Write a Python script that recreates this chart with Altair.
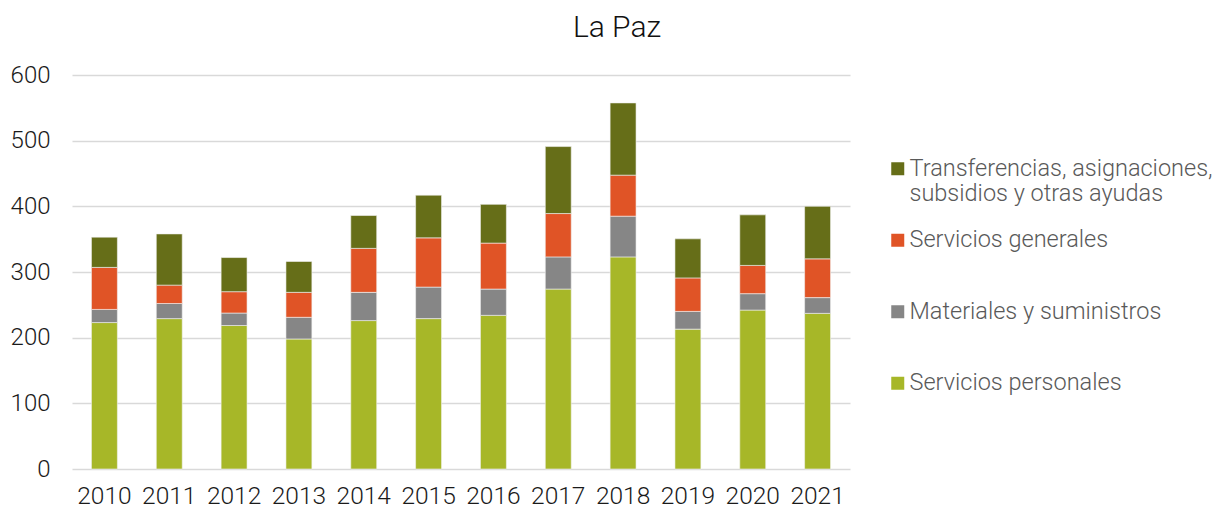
import altair as alt
import pandas as pd

years = [str(y) for y in range(2010, 2022)]
servicios_personales = [223, 229, 218.5, 198, 226, 229, 234, 274, 323, 213, 242, 237]
materiales_suministros = [20, 23, 19, 33, 43, 48, 40, 49, 62, 27, 25, 24]
servicios_generales = [64, 28, 32.5, 38, 67, 75, 70, 66, 62.5, 51, 43, 59]
transferencias = [46, 78, 52, 47, 50, 65, 59, 102, 110, 59.5, 77, 80]

series_names = [
    "Servicios personales",
    "Materiales y suministros",
    "Servicios generales",
    "Transferencias, asignaciones, subsidios y otras ayudas",
]
series_values = [servicios_personales, materiales_suministros, servicios_generales, transferencias]
series_colors = ["#a7b728", "#868686", "#e05426", "#666e18"]

rows = []
for k, (name, vals) in enumerate(zip(series_names, series_values)):
    for y, v in zip(years, vals):
        rows.append({"year": y, "serie": name, "valor": v, "orden": k})
df = pd.DataFrame(rows)

legend_order = series_names[::-1]
legend_colors = series_colors[::-1]

FONT = "Roboto"

chart = alt.Chart(df).mark_bar(stroke="#f2f2f2", strokeWidth=0.6).encode(
    x=alt.X("year:O", title=None, sort=years,
            scale=alt.Scale(paddingInner=0.6, paddingOuter=0.3),
            axis=alt.Axis(labelAngle=0, ticks=False, domain=False, labelPadding=15,
                          labelFontSize=24.5, labelColor="#1a1a1a", labelFont=FONT,
                          labelFontWeight=300)),
    y=alt.Y("valor:Q", title=None, stack="zero",
            scale=alt.Scale(domain=[0, 600], nice=False),
            axis=alt.Axis(values=[0, 100, 200, 300, 400, 500, 600], ticks=False, domain=False,
                          labelPadding=22, labelFontSize=24, labelColor="#1a1a1a",
                          labelFont=FONT, labelFontWeight=300,
                          gridColor="#d9d9d9", gridWidth=1.5)),
    color=alt.Color("serie:N", title=None,
                    scale=alt.Scale(domain=legend_order, range=legend_colors),
                    legend=alt.Legend(
                        orient="none", legendX=814, legendY=82,
                        symbolType="square", symbolSize=169, symbolStrokeWidth=0,
                        labelFontSize=23.5, labelColor="#595959", labelFont=FONT,
                        labelFontWeight=300, labelOffset=0, labelLimit=420,
                        rowPadding=21.5, gridAlign="all",
                        labelExpr="datum.label == 'Transferencias, asignaciones, subsidios y otras ayudas' ? ['Transferencias, asignaciones,', 'subsidios y otras ayudas'] : datum.label",
                    )),
    order=alt.Order("orden:Q", sort="ascending"),
).properties(
    width=778,
    height=394,
    title=alt.Title("La Paz", fontSize=30, font=FONT, fontWeight=300, color="#111111",
                    anchor="middle", dx=156, offset=20),
    autosize=alt.AutoSizeParams(type="none"),
    padding={"left": 64, "top": 67, "right": 365, "bottom": 40},
).configure_view(stroke=None)

chart.save("out.html", embed_options={"renderer": "svg", "actions": False})
